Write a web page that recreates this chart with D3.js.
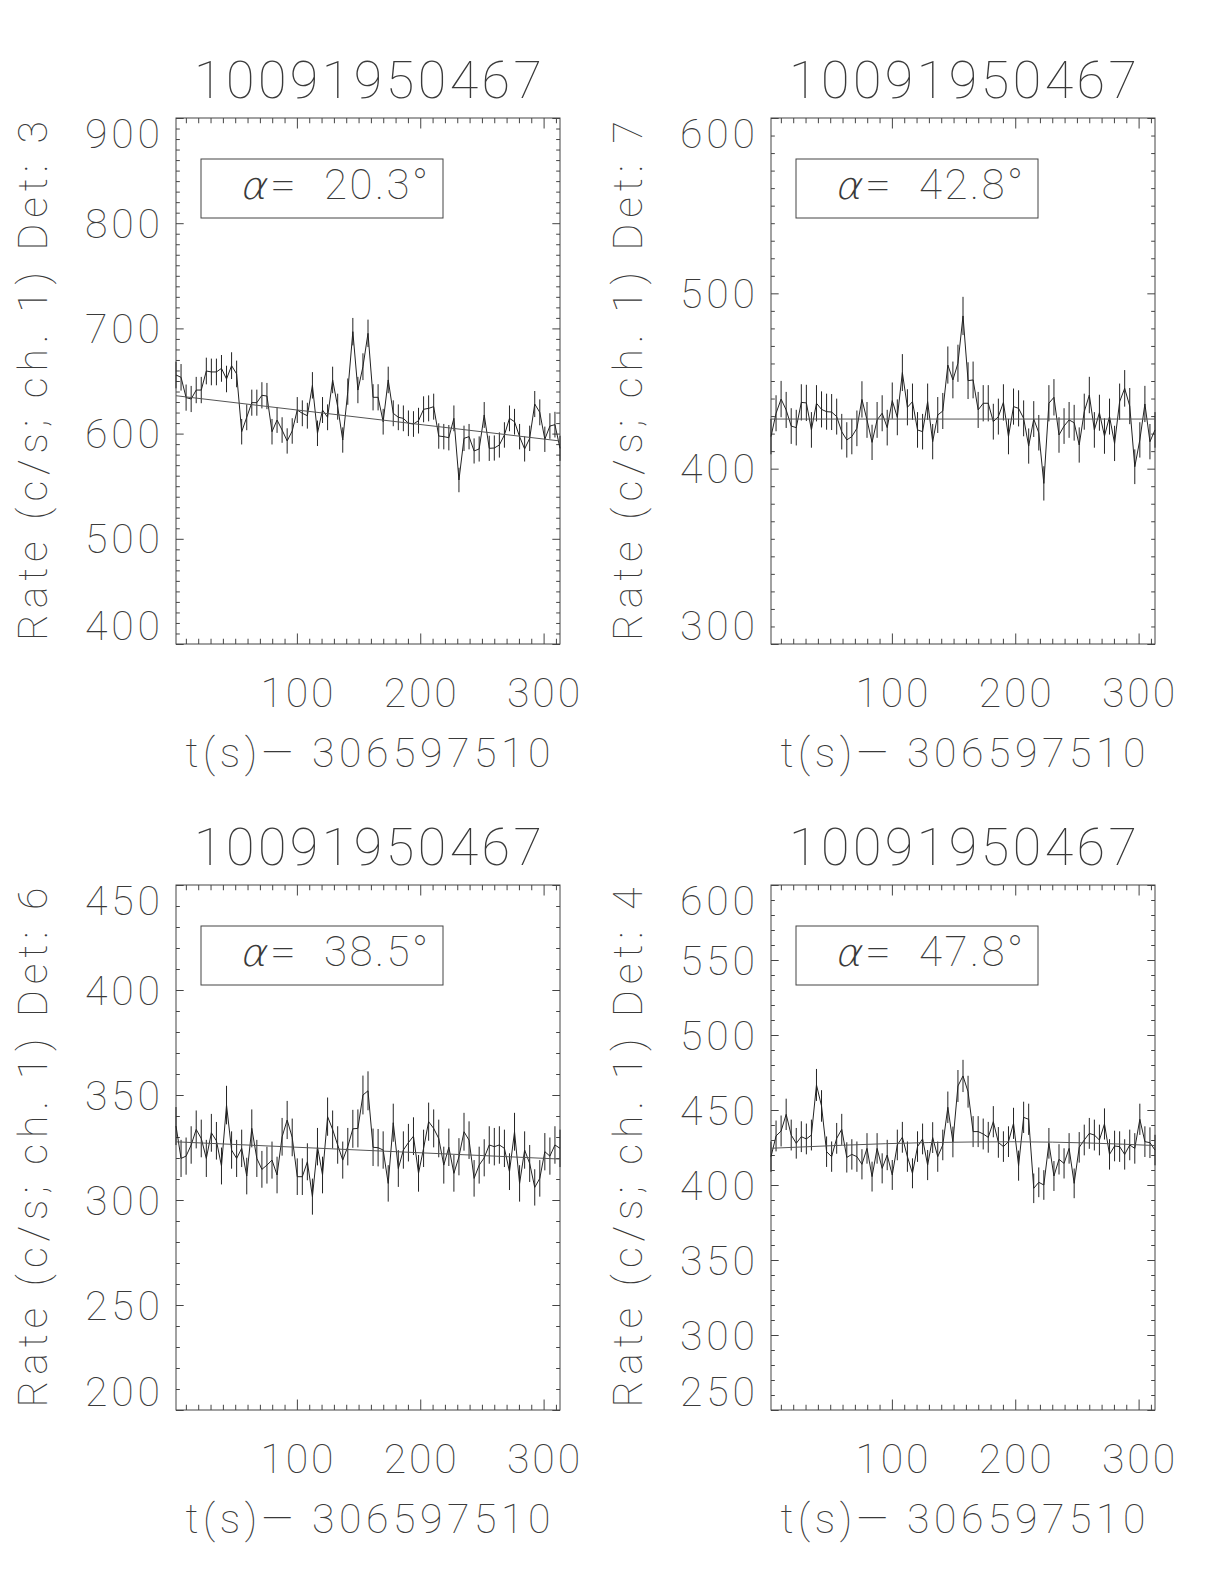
<!DOCTYPE html>
<html><head><meta charset="utf-8">
<script src="https://cdn.jsdelivr.net/npm/d3@7"></script>
<style>html,body{margin:0;padding:0;background:#fff;} svg{display:block}</style>
</head><body>
<svg id="c" width="1224" height="1584"></svg>
<script>
// ---------------- data ----------------
const obsId = "10091950467";
const tRef = "306597510";
const binWidth = 4.096;      // s
const tStart = 2.0;          // s after tRef
const nBins = 77;
const times = d3.range(nBins).map(i => tStart + binWidth * i);

const detectors = [3, 7, 6, 4];
const alphas = ["20.3", "42.8", "38.5", "47.8"];

const det3 = [655.7,653.5,634.2,632.9,641.4,641.4,659.5,658.6,658.6,662.0,
  651.9,664.6,656.7,601.8,615.5,629.4,629.4,636.4,635.7,601.8,
  612.9,603.4,593.0,602.5,622.4,619.3,617.0,645.9,600.3,622.4,
  615.5,651.0,625.6,593.9,639.9,696.9,641.4,663.6,695.3,634.5,
  634.5,611.3,651.0,619.3,615.5,614.5,609.8,609.1,612.3,623.1,
  624.0,625.6,597.7,597.1,596.1,614.5,555.9,595.5,597.1,583.5,
  585.4,617.7,586.0,586.3,589.2,598.7,614.5,611.3,597.1,585.4,
  595.5,628.1,620.2,594.6,607.2,608.5,586.0];
const det7 = [418.3,431.6,439.7,433.5,424.3,423.4,437.8,437.5,422.1,437.3,
  433.8,432.5,432.3,429.7,421.1,416.4,418.3,423.0,439.5,427.8,
  415.0,427.8,431.6,423.4,438.8,429.3,454.8,435.0,438.2,422.1,
  421.1,438.2,415.4,430.6,432.9,459.1,450.6,460.1,487.1,450.2,
  450.6,433.5,437.3,437.3,426.8,429.7,437.8,418.3,435.4,434.4,
  428.7,412.9,428.3,420.5,391.6,437.3,440.7,419.2,424.3,427.8,
  426.2,413.5,432.5,442.0,422.1,431.9,418.6,429.7,414.4,438.2,
  445.8,435.7,401.1,416.4,436.9,415.4,422.1];
const det6 = [335.2,319.8,320.9,326.2,333.6,329.3,319.8,332.0,328.2,316.2,
  345.2,323.8,319.8,324.6,311.4,334.1,319.8,314.6,316.6,319.0,
  311.9,330.1,338.1,329.8,311.1,311.1,318.2,301.6,325.4,311.9,
  339.7,333.6,326.2,319.0,325.4,333.9,334.1,350.0,352.0,325.1,
  324.9,323.8,307.9,336.8,315.0,323.8,327.3,330.4,312.7,324.6,
  337.3,334.1,329.3,316.6,325.1,312.7,320.6,332.5,328.5,310.3,
  316.6,320.1,326.2,325.4,326.2,324.6,313.5,332.5,307.9,323.8,
  317.4,306.0,310.3,323.0,320.9,326.2,324.6];
const det4 = [418.9,432.7,436.0,447.1,433.3,427.8,432.2,430.7,433.3,466.7,
  452.7,422.2,418.9,431.1,437.1,418.4,420.4,418.9,413.8,424.4,
  405.6,424.4,411.1,420.0,406.7,426.7,431.8,418.9,407.8,425.6,
  430.7,413.3,431.6,418.9,426.7,451.8,428.7,466.0,472.7,462.2,
  435.6,435.6,434.0,431.8,442.2,428.4,425.6,428.9,441.1,412.9,
  445.1,443.8,397.8,401.8,400.0,427.8,406.0,417.1,414.4,424.4,
  401.1,425.1,430.0,434.4,433.3,430.0,440.7,420.4,426.0,425.6,
  420.4,426.7,424.4,443.8,428.9,428.2,423.3];

// background model curves: [time, rate]
const fit3 = [[2, 636], [313.3, 593]];
const fit7 = [[2, 428.3], [313.3, 428.3]];
const fit6 = [[2, 327.7], [313.3, 319.5]];
const fit4 = [[2, 424.5], [60, 426.5], [130, 428.3], [200, 428.8], [260, 428.0], [313.3, 426.3]];

const yDomains = [[400, 900], [300, 600], [200, 450], [250, 600]];
const yTickValues = [[400,500,600,700,800,900],[300,400,500,600],[200,250,300,350,400,450],[250,300,350,400,450,500,550,600]];
const xTickValues = [100, 200, 300];

// ---------------- drawing ----------------
const series = [det3, det7, det6, det4];
const fits = [fit3, fit7, fit6, fit4];
const layout = [{x:176,y:118,h:526},{x:771,y:118,h:526},{x:176,y:885,h:525},{x:771,y:885,h:525}];
const W = 384;
const FONT = "Roboto, 'DejaVu Sans', sans-serif";
const TXT = "#3a3a3a";
const INK = "#222";

const svg = d3.select("#c");

function txt(g, s, attrs) {
  const t = g.append("text").text(s)
    .attr("font-family", FONT).attr("font-weight", 100).attr("fill", TXT);
  for (const k in attrs) t.attr(k, attrs[k]);
  return t;
}

layout.forEach((p, k) => {
  const H = p.h;
  const g = svg.append("g").attr("transform", `translate(${p.x},${p.y})`);
  const x = d3.scaleLinear().domain([times[0], times[times.length - 1]]).range([0, W]);
  const y = d3.scaleLinear().domain(yDomains[k]).range([H, 0]);
  const data = series[k];

  // ticks
  const xMinor = d3.range(10, 320, 10).filter(v => v % 100 !== 0 && v <= x.domain()[1]);
  const [y0, y1] = yDomains[k];
  const yMinor = d3.range(y0 + 10, y1, 10).filter(v => !yTickValues[k].includes(v));
  const xTL = 0.02 * H, yTL = 0.02 * W;
  const addAxis = (axis, tr) => {
    const a = g.append("g").attr("transform", tr).call(axis.tickFormat("").tickSizeOuter(0));
    a.select(".domain").remove();
    a.selectAll("line").attr("stroke", "#444");
  };
  addAxis(d3.axisBottom(x).tickValues(xTickValues).tickSize(-xTL), `translate(0,${H})`);
  addAxis(d3.axisBottom(x).tickValues(xMinor).tickSize(-xTL / 2), `translate(0,${H})`);
  addAxis(d3.axisTop(x).tickValues(xTickValues).tickSize(-xTL), `translate(0,0)`);
  addAxis(d3.axisTop(x).tickValues(xMinor).tickSize(-xTL / 2), `translate(0,0)`);
  addAxis(d3.axisLeft(y).tickValues(yTickValues[k]).tickSize(-yTL), `translate(0,0)`);
  addAxis(d3.axisLeft(y).tickValues(yMinor).tickSize(-yTL / 2), `translate(0,0)`);
  addAxis(d3.axisRight(y).tickValues(yTickValues[k]).tickSize(-yTL), `translate(${W},0)`);
  addAxis(d3.axisRight(y).tickValues(yMinor).tickSize(-yTL / 2), `translate(${W},0)`);

  // frame
  g.append("rect").attr("x", 0).attr("y", 0).attr("width", W).attr("height", H)
    .attr("fill", "none").attr("stroke", "#444").attr("stroke-width", 1);

  // error bars
  g.append("g").selectAll("line").data(data).join("line")
    .attr("x1", (d, i) => x(times[i])).attr("x2", (d, i) => x(times[i]))
    .attr("y1", d => y(d - Math.sqrt(d / binWidth)))
    .attr("y2", d => y(d + Math.sqrt(d / binWidth)))
    .attr("stroke", INK).attr("stroke-width", 1);

  // light curve
  g.append("path").datum(data)
    .attr("d", d3.line().x((d, i) => x(times[i])).y(d => y(d)))
    .attr("fill", "none").attr("stroke", INK).attr("stroke-width", 1);

  // background fit
  g.append("path").datum(fits[k])
    .attr("d", d3.line().x(d => x(d[0])).y(d => y(d[1])).curve(d3.curveMonotoneX))
    .attr("fill", "none").attr("stroke", "#555").attr("stroke-width", 1);

  // alpha box
  g.append("rect").attr("x", 25).attr("y", 41).attr("width", 242).attr("height", 59)
    .attr("fill", "none").attr("stroke", "#444").attr("stroke-width", 1);
  g.append("text").text("α")
    .attr("font-family", "'DejaVu Sans', 'Noto Sans', sans-serif").attr("font-weight", 200)
    .attr("fill", TXT).attr("transform", "translate(63,81) skewX(-14)")
    .attr("font-size", 38).attr("textLength", 27).attr("lengthAdjust", "spacingAndGlyphs");
  txt(g, "=", {x: 94, y: 81, "font-size": 42, textLength: 26, lengthAdjust: "spacingAndGlyphs"});
  txt(g, alphas[k] + "°", {x: 148, y: 81, "font-size": 42, textLength: 104, lengthAdjust: "spacing"});

  // x tick labels
  xTickValues.forEach(v => {
    txt(g, String(v), {x: x(v), y: H + 63, "font-size": 41, "text-anchor": "middle",
      textLength: 73, lengthAdjust: "spacing"});
  });
  // x axis title
  txt(g, "t(s)\u2014 " + tRef, {x: W / 2, y: H + 123, "font-size": 41, "text-anchor": "middle",
    textLength: 365, lengthAdjust: "spacing"});

  // y tick labels
  yTickValues[k].forEach(v => {
    let b = y(v) + 14.5;
    if (b - 29 < 0) b = 30;
    if (b > H) b = H - 4;
    txt(g, String(v), {x: -16, y: b, "font-size": 41, "text-anchor": "end",
      textLength: 75, lengthAdjust: "spacing"});
  });

  // y axis title
  txt(g, "Rate (c/s; ch. 1) Det: " + detectors[k], {
    transform: `translate(-129,${H / 2}) rotate(-90)`, x: 0, y: 0,
    "font-size": 41, "text-anchor": "middle", textLength: 520, lengthAdjust: "spacing"});

  // title
  txt(g, obsId, {x: W / 2, y: -20, "font-size": 52, "text-anchor": "middle",
    textLength: 348, lengthAdjust: "spacing"});
});
</script>
</body></html>
